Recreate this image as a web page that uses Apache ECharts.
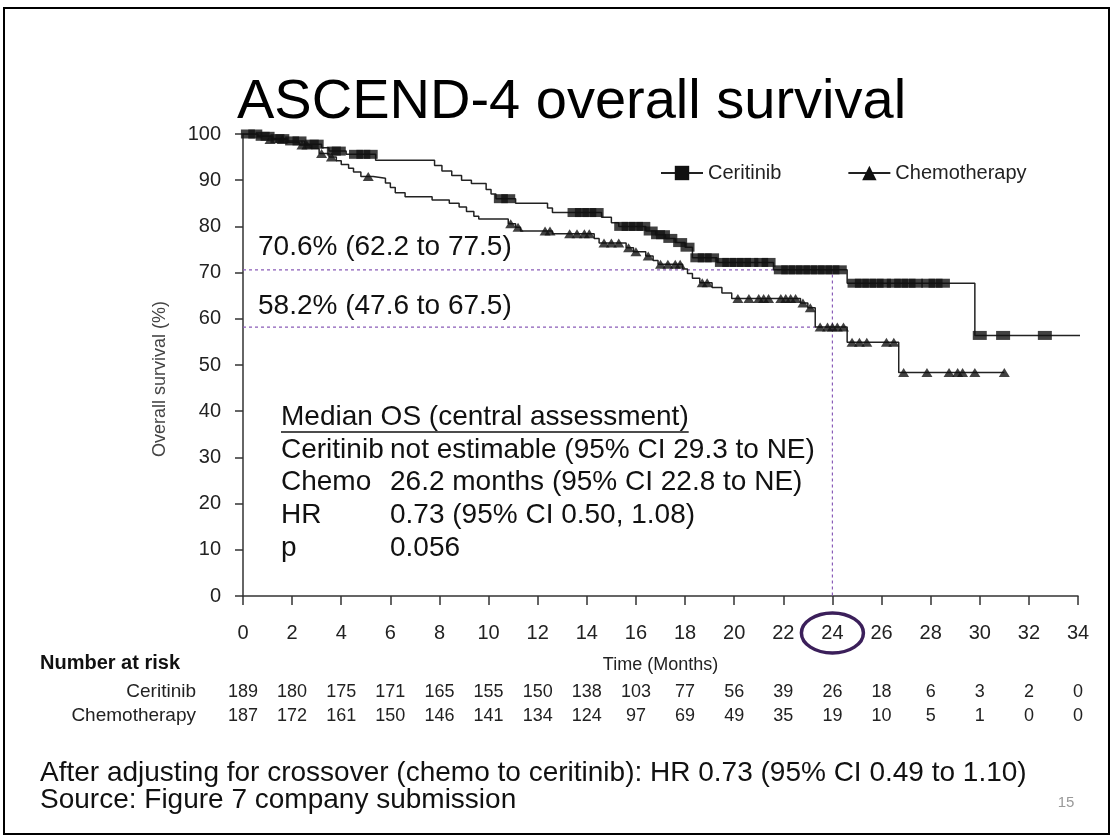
<!DOCTYPE html>
<html><head><meta charset="utf-8">
<script src="https://cdn.jsdelivr.net/npm/echarts@6/dist/echarts.min.js"></script>
<style>html,body{margin:0;padding:0;background:#fff}#c{width:1113px;height:838px}</style>
</head><body><div id="c"></div>
<script>
const FONT = '"Liberation Sans", Arial, sans-serif';

// Kaplan-Meier steps [month, survival %]
const ceritinibSteps = [[0,100],[0.6,99.5],[1.2,99.0],[1.8,98.5],[2.5,97.8],[3.2,97.0],[3.5,96.3],[4.2,95.6],[5.4,94.3],[7.8,93.2],[8.1,92.0],[8.5,91.0],[8.9,90.0],[9.3,89.3],[9.9,88.0],[10.1,87.0],[10.3,86.0],[11.1,85.0],[12.4,84.0],[12.6,83.0],[14.6,82.0],[15.0,80.8],[15.3,80.0],[16.4,79.0],[16.8,78.2],[17.2,77.4],[17.6,76.5],[18.0,75.5],[18.3,73.2],[19.3,72.2],[21.6,70.6],[24.6,67.7],[29.8,56.4],[34.3,56.4]];
const chemoSteps = [[0,100],[0.6,99.5],[1.2,98.8],[1.8,98.2],[2.3,97.6],[2.8,96.8],[3.1,95.8],[3.5,95.0],[3.8,94.2],[4.0,93.4],[4.3,92.6],[4.5,91.8],[4.8,90.8],[5.3,90.4],[5.8,89.4],[6.0,88.4],[6.2,87.3],[6.6,86.4],[7.7,85.7],[8.4,85.0],[8.8,84.2],[9.1,83.2],[9.4,82.2],[9.6,81.6],[10.8,80.6],[11.1,79.8],[11.3,79.0],[12.6,78.4],[14.3,77.4],[14.5,76.4],[15.6,75.4],[15.9,74.5],[16.4,73.6],[16.7,72.6],[16.9,71.8],[17.9,70.8],[18.1,69.8],[18.3,68.8],[18.6,67.8],[19.1,66.8],[19.5,65.6],[19.9,64.4],[22.7,63.4],[23.0,62.4],[23.3,58.2],[24.6,54.9],[26.7,48.4],[31.0,48.4]];

// Censored observations
const ceritinibCensored = [[0.2,100],[0.5,100],[0.8,99.5],[1.0,99.5],[1.4,99],[1.6,99],[2.0,98.5],[2.3,98.5],[2.8,97.8],[3.0,97.8],[3.7,96.3],[3.9,96.3],[4.6,95.6],[4.9,95.6],[5.2,95.6],[10.5,86.0],[10.8,86.0],[13.5,83],[13.8,83],[14.1,83],[14.4,83],[15.4,80],[15.7,80],[16.0,80],[16.3,80],[16.6,79],[16.9,78.2],[17.1,78.2],[17.4,77.4],[17.8,76.5],[18.1,75.5],[18.5,73.2],[18.8,73.2],[19.1,73.2],[19.5,72.2],[19.8,72.2],[20.1,72.2],[20.4,72.2],[20.7,72.2],[21.1,72.2],[21.4,72.2],[21.9,70.6],[22.2,70.6],[22.5,70.6],[22.8,70.6],[23.1,70.6],[23.4,70.6],[23.7,70.6],[24.0,70.6],[24.3,70.6],[24.9,67.7],[25.2,67.7],[25.5,67.7],[25.8,67.7],[26.1,67.7],[26.5,67.7],[26.8,67.7],[27.1,67.7],[27.4,67.7],[27.9,67.7],[28.2,67.7],[28.5,67.7],[30.0,56.4],[30.95,56.4],[32.65,56.4],[34.05,56.4]];
const chemoCensored = [[1.1,98.8],[1.6,98.8],[2.4,97.6],[2.6,97.6],[3.2,95.8],[3.6,95.0],[5.1,90.8],[10.9,80.6],[11.2,79.8],[12.3,79.0],[12.5,79.0],[13.3,78.4],[13.6,78.4],[13.9,78.4],[14.1,78.4],[14.7,76.4],[15.0,76.4],[15.3,76.4],[15.7,75.4],[16.0,74.5],[16.5,73.6],[17.0,71.8],[17.3,71.8],[17.6,71.8],[17.8,71.8],[18.7,67.8],[18.9,67.8],[20.15,64.4],[20.6,64.4],[21.0,64.4],[21.2,64.4],[21.4,64.4],[21.9,64.4],[22.1,64.4],[22.3,64.4],[22.5,64.4],[22.8,63.4],[23.1,62.4],[23.5,58.2],[23.8,58.2],[24.0,58.2],[24.2,58.2],[24.45,58.2],[24.8,54.9],[25.1,54.9],[25.4,54.9],[26.2,54.9],[26.5,54.9],[26.9,48.4],[27.85,48.4],[28.75,48.4],[29.1,48.4],[29.3,48.4],[29.8,48.4],[31.0,48.4]];

// Number at risk (every 2 months, 0..34)
const riskCeritinib = [189,180,175,171,165,155,150,138,103,77,56,39,26,18,6,3,2,0];
const riskChemo = [187,172,161,150,146,141,134,124,97,69,49,35,19,10,5,1,0,0];

// Reference lines at 24 months
const ref24Ceritinib = [[0,70.6],[24,70.6],[24,0]];
const ref24Chemo = [[0,58.2],[24,58.2]];
const refLabels = ['70.6% (62.2 to 77.5)', '58.2% (47.6 to 67.5)'];

const medianTitle = 'Median OS (central assessment)';
const medianRows = [['Ceritinib','not estimable (95% CI 29.3 to NE)'],['Chemo','26.2 months (95% CI 22.8 to NE)'],['HR','0.73 (95% CI 0.50, 1.08)'],['p','0.056']];
const footer = ['After adjusting for crossover (chemo to ceritinib): HR 0.73 (95% CI 0.49 to 1.10)','Source: Figure 7 company submission'];

const chart = echarts.init(document.getElementById('c'), null, {renderer:'canvas'});
const riskAxis = (off, arr) => ({
  type:'value', gridIndex:0, position:'bottom', offset:off, min:0, max:34, interval:2,
  axisLine:{show:false}, axisTick:{show:false}, splitLine:{show:false},
  axisLabel:{margin:8, fontSize:18, color:'#222', fontFamily:FONT, showMinLabel:true, showMaxLabel:true,
    formatter: v => String(arr[Math.round(v/2)])}
});
const option = {
  animation:false,
  backgroundColor:'#fff',
  title:{text:'ASCEND-4 overall survival', left:232, top:70,
    textStyle:{fontSize:56, fontWeight:'normal', color:'#000', fontFamily:FONT}},
  legend:{data:['Ceritinib','Chemotherapy'], left:655, top:158, itemWidth:42, itemHeight:18, itemGap:66,
    textStyle:{fontSize:20, color:'#222', fontFamily:FONT}},
  grid:{left:243, top:134, width:835, height:462},
  xAxis:[{type:'value', min:0, max:34, interval:2,
    axisLine:{show:true, lineStyle:{color:'#333', width:1.5}},
    axisTick:{show:true, length:9, lineStyle:{color:'#333', width:1.5}},
    axisLabel:{fontSize:20, color:'#222', margin:27, fontFamily:FONT, showMinLabel:true, showMaxLabel:true},
    splitLine:{show:false},
    name:'Time (Months)', nameLocation:'middle', nameGap:60,
    nameTextStyle:{fontSize:18, color:'#222', fontFamily:FONT}},
    riskAxis(79, riskCeritinib), riskAxis(103, riskChemo)],
  yAxis:{type:'value', min:0, max:100, interval:10,
    axisLine:{show:true, lineStyle:{color:'#333', width:1.5}},
    axisTick:{show:true, length:8, lineStyle:{color:'#333', width:1.5}},
    axisLabel:{fontSize:20, color:'#222', margin:22, fontFamily:FONT},
    splitLine:{show:false}},
  series:[
    {name:'ref1', type:'line', data:ref24Ceritinib, symbol:'none', silent:true, z:1,
      lineStyle:{color:'#8a5cb8', width:1.2, type:[3,3]}},
    {name:'ref2', type:'line', data:ref24Chemo, symbol:'none', silent:true, z:1,
      lineStyle:{color:'#8a5cb8', width:1.2, type:[3,3]}},
    {name:'Ceritinib', type:'line', step:'end', data:ceritinibSteps, symbol:'rect', symbolSize:[16,12], showSymbol:false,
      lineStyle:{color:'#222', width:1.5}, itemStyle:{color:'#111'}, z:3},
    {name:'Chemotherapy', type:'line', step:'end', data:chemoSteps, symbol:'triangle', symbolSize:[16,14], showSymbol:false,
      lineStyle:{color:'#222', width:1.5}, itemStyle:{color:'#111'}, z:3},
    {name:'Ceritinib censored', type:'scatter', data:ceritinibCensored, symbol:'rect', symbolSize:[14,9],
      itemStyle:{color:'#111'}, z:4},
    {name:'Chemo censored', type:'scatter', data:chemoCensored, symbol:'triangle', symbolSize:[11,9],
      itemStyle:{color:'#111'}, z:4}
  ]
};
chart.setOption(option);

const px = v => chart.convertToPixel({xAxisIndex:0, yAxisIndex:0}, v);
const ctx = document.createElement('canvas').getContext('2d');
function tw(t, size){ ctx.font = size + 'px "Liberation Sans"'; return ctx.measureText(t).width; }
const txt = (x,y,t,size,extra) => Object.assign({type:'text', x:x, y:y, silent:true,
  style:Object.assign({text:t, fontSize:size, fontFamily:FONT, fill:'#111', align:'left', verticalAlign:'middle'}, extra||{})});

const p706 = px([0,70.6]), p582 = px([0,58.2]), p24 = px([24,0]), pMid = px([0,50]);
const BODY = 28;
const gfx = [
  {type:'rect', shape:{x:4, y:8, width:1105, height:826}, style:{fill:'none', stroke:'#000', lineWidth:2}, silent:true},
  {type:'text', x:160, y:pMid[1]+14, rotation:Math.PI/2, silent:true,
    style:{text:'Overall survival (%)', fontSize:18, fontFamily:FONT, fill:'#444', align:'center', verticalAlign:'middle'}},
  txt(258, p706[1]-23, refLabels[0], BODY),
  txt(258, p582[1]-21, refLabels[1], BODY),
  txt(281, 417, medianTitle, BODY),
  {type:'line', shape:{x1:281, y1:432, x2:281+tw(medianTitle,BODY), y2:432}, style:{stroke:'#111', lineWidth:1.5}, silent:true},
  {type:'ellipse', shape:{cx:p24[0], cy:633, rx:31, ry:20}, style:{fill:'none', stroke:'#3b1f5a', lineWidth:3.5}, silent:true},
  txt(40, 663, 'Number at risk', 20, {fontWeight:'bold'}),
  txt(196, 692, 'Ceritinib', 19, {align:'right', fill:'#222'}),
  txt(196, 716, 'Chemotherapy', 19, {align:'right', fill:'#222'}),
  txt(40, 773, footer[0], BODY),
  txt(40, 800, footer[1], BODY),
  txt(1066, 803, '15', 15, {fill:'#999', align:'center'})
];
medianRows.forEach((r,i) => {
  const y = 450 + i*32.7;
  gfx.push(txt(281, y, r[0], BODY));
  gfx.push(txt(390, y, r[1], BODY));
});
chart.setOption({graphic:gfx});
</script></body></html>
